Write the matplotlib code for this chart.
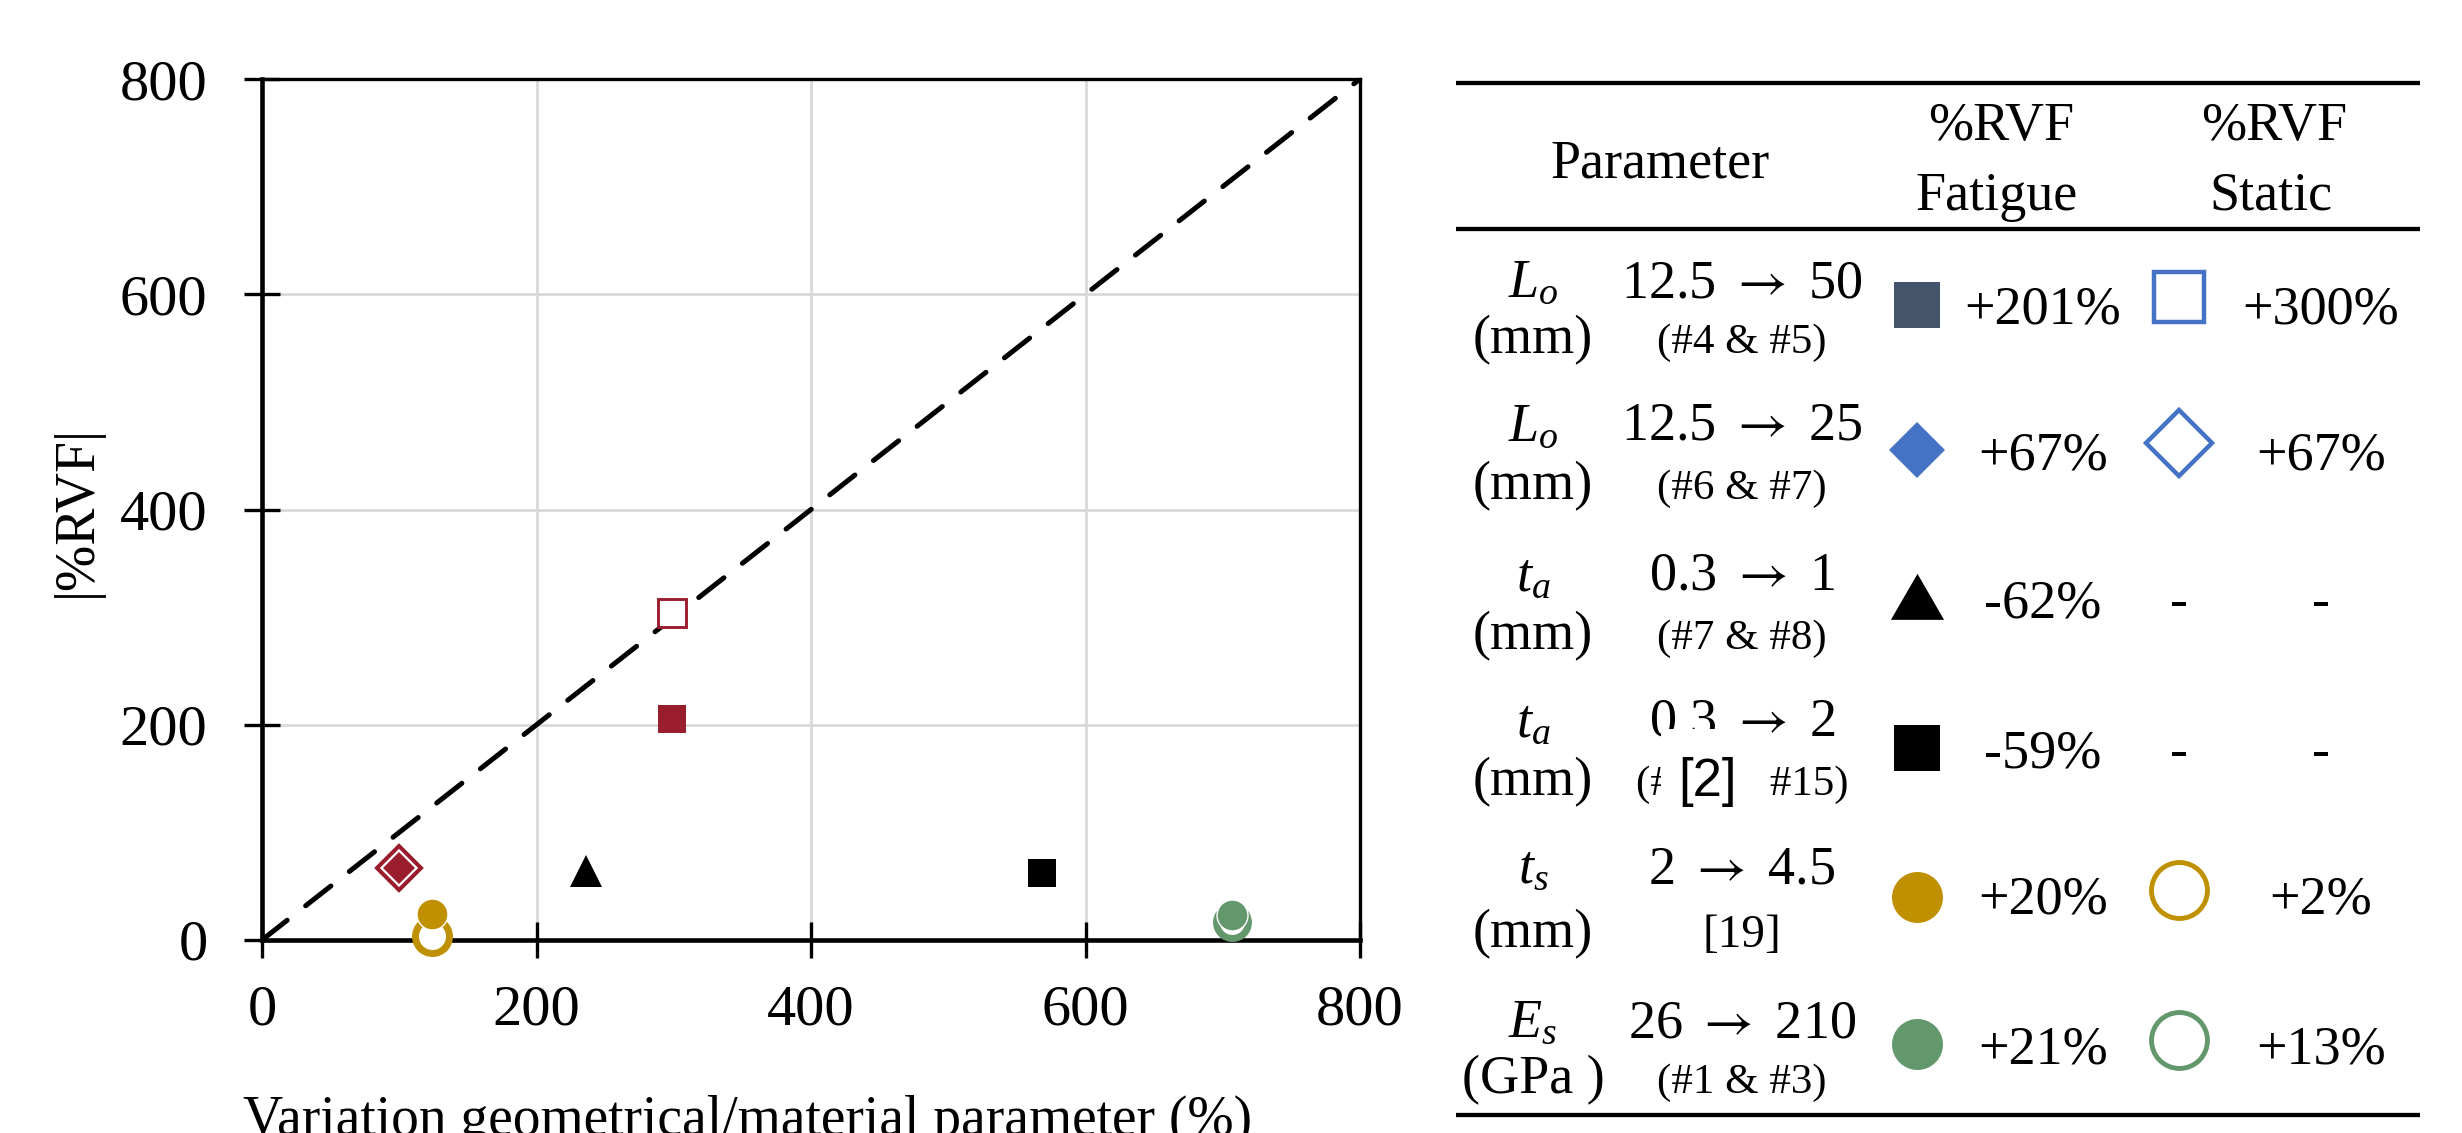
import matplotlib
matplotlib.use('Agg')
import matplotlib.pyplot as plt
from matplotlib.patches import Rectangle

plt.rcParams['font.family'] = ['Liberation Serif', 'DejaVu Serif']
plt.rcParams['mathtext.fontset'] = 'custom'
plt.rcParams['mathtext.rm'] = 'STIXGeneral'
plt.rcParams['mathtext.it'] = 'Liberation Serif:italic'

# ---------------- data ----------------
variation = [299, 100, 236, 568, 124, 707]          # x: variation of parameter (%)
rvf_fatigue = [205, 67, 64, 62, 24, 23]             # |%RVF| fatigue
rvf_static = [304, 67, None, None, 4, 17]           # |%RVF| static

tab_param = [r'$L_o$', r'$L_o$', r'$t_a$', r'$t_a$', r'$t_s$', r'$E_s$']
tab_unit = ['(mm)', '(mm)', '(mm)', '(mm)', '(mm)', '(GPa )']
tab_range = [r'12.5 $\rightarrow$ 50', r'12.5 $\rightarrow$ 25', r'0.3 $\rightarrow$ 1',
             r'0.3 $\rightarrow$ 2', r'2 $\rightarrow$ 4.5', r'26 $\rightarrow$ 210']
tab_ref = ['(#4 & #5)', '(#6 & #7)', '(#7 & #8)', '(#10 & #15)', '[19]', '(#1 & #3)']
tab_fatigue = ['+201%', '+67%', '-62%', '-59%', '+20%', '+21%']
tab_static = ['+300%', '+67%', '-', '-', '+2%', '+13%']

xticks = [0, 200, 400, 600, 800]
yticks = [0, 200, 400, 600, 800]

# ---------------- styles ----------------
RED = '#9A1D2E'
BLUE = '#4472C4'
SLATE = '#44546A'
GOLD = '#BF9000'
GREEN = '#63986C'

W, H = 2462, 1133
DPI = 100
fig = plt.figure(figsize=(W / DPI, H / DPI), dpi=DPI)

ax = fig.add_axes([262 / W, (H - 940) / H, (1360 - 262) / W, (940 - 79) / H])
ax.set_xlim(0, 800)
ax.set_ylim(0, 800)
ax.set_xticks(xticks)
ax.set_yticks(yticks)
ax.grid(True, color='#D9D9D9', lw=2.0)
ax.set_axisbelow(True)
for s in ['left', 'bottom']:
    ax.spines[s].set_linewidth(3.3)
for s in ['top', 'right']:
    ax.spines[s].set_linewidth(2.4)
ax.tick_params(direction='inout', length=26.6, width=2.4, labelsize=42)
ax.tick_params(axis='x', pad=18.4)
ax.tick_params(axis='y', pad=25.9)

# 1:1 line
ax.plot([0, 800], [0, 800], color='black', lw=3.6, linestyle=(0, (6.4, 4.7)),
        dash_capstyle='round', zorder=2.2)

plot_filled = [
    dict(marker='s', ms=20, color=RED, mew=0),
    dict(marker='D', ms=15.8, color=RED, mew=0),
    dict(marker='^', ms=22.8, color='black', mew=0),
    dict(marker='s', ms=20, color='black', mew=0),
    dict(marker='o', ms=22.3, color=GOLD, mec='white', mew=1),
    dict(marker='o', ms=22.3, color=GREEN, mec='white', mew=1),
]
plot_hollow = [
    dict(marker='s', ms=20.2, mec=RED, mfc='white', mew=2.1),
    dict(marker='D', ms=22.4, mec=RED, mfc='white', mew=2.9),
    None,
    None,
    dict(marker='o', ms=24.5, mec=GOLD, mfc='white', mew=5.0),
    dict(marker='o', ms=23.0, mec=GREEN, mfc='white', mew=5.0),
]
for i in range(len(variation)):
    if rvf_static[i] is not None and plot_hollow[i] is not None:
        ax.plot([variation[i]], [rvf_static[i]], ls='none', clip_on=False, zorder=3,
                **plot_hollow[i])
for i in range(len(variation)):
    ax.plot([variation[i]], [rvf_fatigue[i]], ls='none', clip_on=False, zorder=3.5,
            **plot_filled[i])

ax.set_xlabel('Variation geometrical/material parameter (%)', fontsize=40)
ax.xaxis.set_label_coords((748 - 262) / 1098, (940 - 1135) / 861)
ax.xaxis.label.set_va('baseline')
ax.set_ylabel('|%RVF|', fontsize=40)
ax.yaxis.set_label_coords((77 - 262) / 1098, (940 - 511) / 861)
ax.yaxis.label.set_va('center')
ax.yaxis.label.set_ha('center')

# ---------------- table ----------------
tab = fig.add_axes([0, 0, 1, 1])
tab.set_xlim(0, W)
tab.set_ylim(H, 0)
tab.axis('off')
tab.patch.set_visible(False)

FS = 39
FS_REF = 31
X_PARAM, X_RANGE = 1533, 1742
X_FMARK, X_FTXT, X_SMARK, X_STXT = 1917, 2043, 2179, 2321

for y in [83, 229, 1115]:
    tab.plot([1456, 2420], [y, y], color='black', lw=3.1, solid_capstyle='butt')

tab.text(1660, 177, 'Parameter', fontsize=FS, ha='center', va='baseline')
tab.text(2001, 140, '%RVF', fontsize=FS, ha='center', va='baseline')
tab.text(1997, 210, 'Fatigue', fontsize=FS, ha='center', va='baseline')
tab.text(2274, 140, '%RVF', fontsize=FS, ha='center', va='baseline')
tab.text(2271, 210, 'Static', fontsize=FS, ha='center', va='baseline')

base1 = [297, 440, 590, 736, 883, 1037]
base2 = [353, 499, 649, 795, 947, 1093]
baseval = [324, 470, 617, 767, 913, 1063]
mark_f_y = [305, 450, 604, 748, 897, 1044]
mark_s_y = [297, 443, None, None, 890, 1040]

tab_filled = [
    dict(marker='s', ms=33, color=SLATE, mew=0),
    dict(marker='D', ms=29, color=BLUE, mew=0),
    dict(marker=(3, 0, 0), ms=44.2, color='black', mew=0),
    dict(marker='s', ms=33, color='black', mew=0),
    dict(marker='o', ms=36.7, color=GOLD, mew=0),
    dict(marker='o', ms=36.7, color=GREEN, mew=0),
]
tab_hollow = [
    dict(marker='s', ms=36, mec=BLUE, mfc='white', mew=3.2),
    dict(marker='D', ms=33.4, mec=BLUE, mfc='white', mew=3.2),
    None, None,
    dict(marker='o', ms=40.3, mec=GOLD, mfc='white', mew=3.5),
    dict(marker='o', ms=40.3, mec=GREEN, mfc='white', mew=3.5),
]

for i in range(len(tab_param)):
    tab.text(X_PARAM, base1[i], tab_param[i], fontsize=FS, ha='center', va='baseline')
    tab.text(X_PARAM, base2[i], tab_unit[i], fontsize=FS, ha='center', va='baseline')
    tab.text(X_RANGE, base1[i], tab_range[i], fontsize=FS, ha='center', va='baseline')
    rfs = 34 if tab_ref[i].startswith('[') else FS_REF
    tab.text(X_RANGE, base2[i], tab_ref[i], fontsize=rfs, ha='center', va='baseline')
    tab.text(X_FTXT, baseval[i], tab_fatigue[i], fontsize=FS, ha='center', va='baseline')
    tab.text(X_STXT, baseval[i], tab_static[i], fontsize=FS, ha='center', va='baseline')
    tab.plot([X_FMARK], [mark_f_y[i]], ls='none', **tab_filled[i])
    if tab_hollow[i] is not None:
        tab.plot([X_SMARK], [mark_s_y[i]], ls='none', **tab_hollow[i])
    else:
        tab.text(X_SMARK, baseval[i], '-', fontsize=FS, ha='center', va='baseline')

# citation overlay box
tab.add_patch(Rectangle((1661, 729), 103, 83, facecolor='white', edgecolor='none', zorder=5))
tab.text(1707, 782, '[2]', fontsize=38, family=['Liberation Sans', 'DejaVu Sans'],
         ha='center', va='center', zorder=6)

fig.savefig('out.png', dpi=DPI)
